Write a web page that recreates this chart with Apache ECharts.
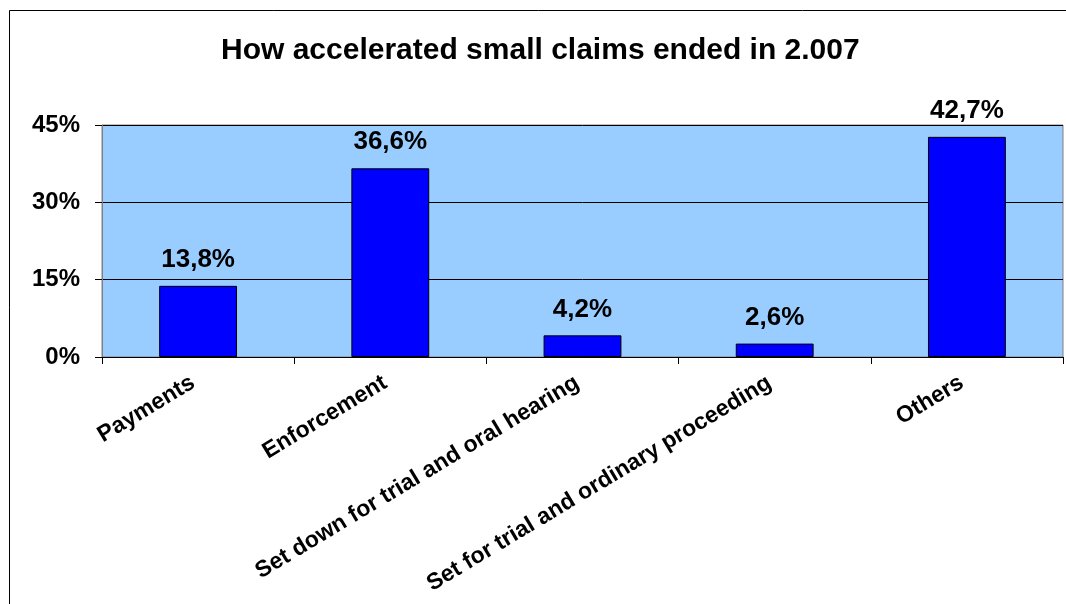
<!DOCTYPE html>
<html>
<head>
<meta charset="utf-8">
<script src="https://cdn.jsdelivr.net/npm/echarts@6/dist/echarts.min.js"></script>
<style>html,body{margin:0;padding:0;background:#fff}#c{width:1066px;height:604px}</style>
</head>
<body>
<div id="c"></div>
<script>
const titleText = 'How accelerated small claims ended in 2.007';
const categories = ['Payments', 'Enforcement', 'Set down for trial and oral hearing', 'Set for trial and ordinary proceeding', 'Others'];
const values = [13.8, 36.6, 4.2, 2.6, 42.7];
const yTicks = { min: 0, max: 45, interval: 15 };

const FONT = 'Arial, "Liberation Sans", sans-serif';
const chart = echarts.init(document.getElementById('c'), null, { renderer: 'canvas' });
chart.setOption({
  backgroundColor: '#ffffff',
  animation: false,
  title: {
    text: titleText,
    left: 216,
    top: 31,
    textStyle: { fontFamily: FONT, fontWeight: 'bold', fontSize: 30, color: '#000' }
  },
  graphic: [{
    type: 'rect',
    shape: { x: 9.5, y: 10.5, width: 1200, height: 800 },
    style: { fill: 'none', stroke: '#000', lineWidth: 1 },
    z: 100
  }],
  grid: {
    left: 102, right: 3, top: 125, bottom: 247,
    containLabel: false, outerBoundsMode: 'none',
    show: true, backgroundColor: '#99CCFF', borderColor: '#808080', borderWidth: 1
  },
  xAxis: {
    type: 'category',
    data: categories,
    axisLine: { lineStyle: { color: '#000', width: 1 } },
    axisTick: { show: true, alignWithLabel: false, length: 7, lineStyle: { color: '#000' } },
    axisLabel: {
      rotate: 31, interval: 0, margin: 21, padding: [0, 6, 0, 0],
      fontFamily: FONT, fontWeight: 'bold', fontSize: 23, color: '#000'
    }
  },
  yAxis: {
    type: 'value',
    min: yTicks.min, max: yTicks.max, interval: yTicks.interval,
    axisLine: { show: true, lineStyle: { color: '#808080' } },
    axisTick: { show: true, length: 7, lineStyle: { color: '#000' } },
    splitLine: { show: true, lineStyle: { color: '#000', width: 1 } },
    axisLabel: {
      formatter: '{value}%', margin: 22,
      fontFamily: FONT, fontWeight: 'bold', fontSize: 24, color: '#000'
    }
  },
  series: [{
    type: 'bar',
    data: values,
    barWidth: '40.5%',
    itemStyle: { color: '#0000FF', borderColor: '#000', borderWidth: 1 },
    label: {
      show: true, position: 'top', distance: 13,
      formatter: p => String(p.value).replace('.', ',') + '%',
      fontFamily: FONT, fontWeight: 'bold', fontSize: 26, color: '#000'
    }
  }]
});
</script>
</body>
</html>
